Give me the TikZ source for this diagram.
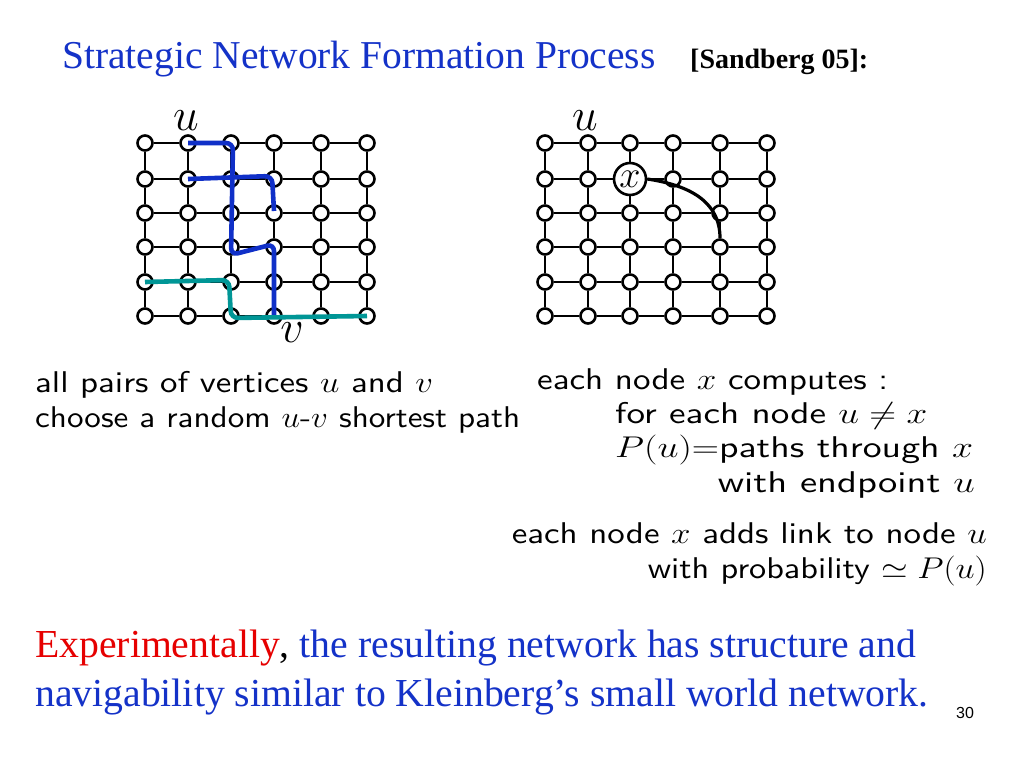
\documentclass[tikz,border=0pt]{standalone}
\usepackage{fix-cm}
\usepackage{graphicx}
\usepackage{fontspec}
\setsansfont{lmsans10-regular}[Extension=.otf]
\newfontfamily\timesf{Liberation Serif}
\newfontfamily\arialf{Liberation Sans}
\usetikzlibrary{calc}
\definecolor{titleblue}{RGB}{20,50,200}
\definecolor{pathblue}{RGB}{16,48,200}
\definecolor{pathteal}{RGB}{0,150,150}
\definecolor{expred}{RGB}{230,0,0}
\newcommand{\wfit}[2]{\resizebox{#1pt}{\height}{#2}}
\tikzset{
  gnode/.style={circle,draw=black,fill=white,line width=2.6pt,minimum size=15pt,inner sep=0pt},
  xnode/.style={circle,draw=black,fill=white,line width=2.6pt,minimum size=32pt,inner sep=0pt,font=\fontsize{38}{38}\selectfont},
  gedge/.style={line width=1.3pt,black},
  bpath/.style={line width=4.6pt,pathblue,rounded corners=7pt},
  tpath/.style={line width=4.6pt,pathteal,rounded corners=7pt},
  lbl/.style={font=\fontsize{46}{46}\selectfont,inner sep=0pt},
  sanst/.style={font=\sffamily\fontsize{30}{30}\selectfont,inner sep=0pt},
  btext/.style={font=\timesf\fontsize{39.7}{39.7}\selectfont,inner sep=0pt,titleblue},
}
\begin{document}
\begin{tikzpicture}[x=1pt,y=-1pt]
\useasboundingbox[fill=white] (0,0) rectangle (1024,768);
% title
\node[anchor=base west,inner sep=0pt,text=titleblue,font=\timesf\fontsize{39.5}{39.5}\selectfont] (title) at (62,68) {Strategic Network Formation Process};
\node[anchor=base west,inner sep=0pt,font=\timesf\bfseries\fontsize{28}{28}\selectfont] (ref) at (690,68) {[Sandberg 05]:};
% grids
\foreach \x [count=\i] in {145,188,231,274,321,367} {
  \foreach \y [count=\j] in {143,179,213,247,282,316} {
    \node[gnode] (L-\j-\i) at (\x,\y) {};
  }
}
\foreach \x [count=\i] in {545,588,630,673,720,767} {
  \foreach \y [count=\j] in {143,179,213,247,282,316} {
    \ifnum\i=3 \ifnum\j=2 \node[xnode] (R-\j-\i) at (\x,\y) {$x$};
      \else \node[gnode] (R-\j-\i) at (\x,\y) {}; \fi
    \else \node[gnode] (R-\j-\i) at (\x,\y) {}; \fi
  }
}
\foreach \a [count=\b] in {1,...,5} {
  \foreach \c in {1,...,6} {
    \pgfmathtruncatemacro{\n}{\b+1}
    \draw[gedge] (L-\c-\a) -- (L-\c-\n);
    \draw[gedge] (L-\a-\c) -- (L-\n-\c);
    \draw[gedge] (R-\c-\a) -- (R-\c-\n);
    \draw[gedge] (R-\a-\c) -- (R-\n-\c);
  }
}
% labels
\node[lbl] (uL) at (186,121) {$u$};
\node[lbl] (vL) at (292,333) {$v$};
\node[lbl] (uR) at (585,121) {$u$};
% paths
\draw[bpath] (L-1-2.center) -- ($(L-1-3.center)+(2,0)$) -- ($(L-4-3.center)+(0,8)$) -- ($(L-4-4.center)+(0,-3)$) -- (L-6-4.center);
\draw[bpath] (L-2-2.center) -- ($(L-2-4.center)+(-2,-3)$) -- ($(L-3-4.center)+(0,-2)$);
\draw[tpath] (L-5-1.center) -- ($(L-5-3.center)+(-2,-2)$) -- ($(L-6-3.center)+(0,2)$) -- (L-6-6.center);
% long link
\draw[line width=3.2pt,black] (R-2-3.east) .. controls +(40,6) and +(0,-38) .. (R-4-5.north);
% texts
\node[sanst,anchor=base west] (t1) at (35,392) {\wfit{398}{all pairs of vertices $u$ and $v$}};
\node[sanst,anchor=base west] (t2) at (35,427) {\wfit{485}{choose a random $u$-$v$ shortest path}};
\node[sanst,anchor=base west] (t3) at (537,389) {\wfit{351}{each node $x$ computes :}};
\node[sanst,anchor=base west] (t4) at (615,423) {\wfit{312}{for each node $u\neq x$}};
\node[sanst,anchor=base west] (t5) at (615,457) {\wfit{358}{$P(u){=}$paths through $x$}};
\node[sanst,anchor=base east] (t6) at (975,492) {\wfit{257}{with endpoint $u$}};
\node[sanst,anchor=base east] (t7) at (987,543) {\wfit{475}{each node $x$ adds link to node $u$}};
\node[sanst,anchor=base east] (t8) at (987,578) {\wfit{339}{with probability $\simeq P(u)$}};
% bottom
\node[btext,anchor=base west] (b1) at (35,657) {\textcolor{expred}{Experimentally}\textcolor{black}{,} the resulting network has structure and};
\node[btext,anchor=base west] (b2) at (35,706) {navigability similar to Kleinberg’s small world network.};
\node[anchor=base,inner sep=0pt,font=\arialf\fontsize{16}{16}\selectfont] (pg) at (965,718) {30};
\end{tikzpicture}
\end{document}
